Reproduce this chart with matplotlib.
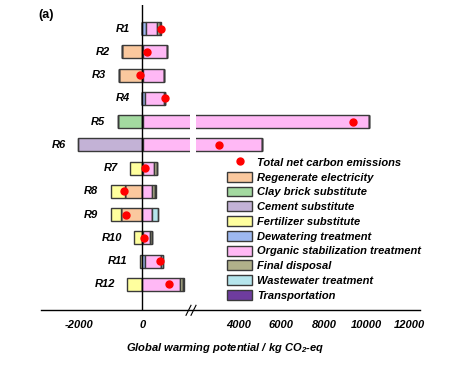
import numpy as np
import matplotlib
matplotlib.use("Agg")
import matplotlib.pyplot as plt
from matplotlib.lines import Line2D
from matplotlib.patches import Patch

plt.rcParams['font.family'] = ['Liberation Sans', 'DejaVu Sans']
plt.rcParams['font.weight'] = 'bold'
plt.rcParams['font.style'] = 'italic'
plt.rcParams['font.size'] = 8
plt.rcParams['mathtext.default'] = 'regular'
plt.rcParams['axes.unicode_minus'] = False

# --- data (kg CO2-eq), rows R1..R12 ---
rows = ["R1", "R2", "R3", "R4", "R5", "R6", "R7", "R8", "R9", "R10", "R11", "R12"]

# negative parts (stacked leftwards from 0, in this order)
regen = [0, -640, -745, 0, 0, 0, 0, -545, -690, 0, 0, 0]
clay = [0, 0, 0, 0, -775, 0, 0, 0, 0, 0, 0, 0]
cement = [0, 0, 0, 0, 0, -2030, 0, 0, 0, 0, 0, 0]
fert = [0, 0, 0, 0, 0, 0, -380, -460, -315, -255, -90, -475]

# positive parts (stacked rightwards from 0, in this order)
dewater = [100, 30, 20, 70, 30, 30, 30, 0, 0, 20, 70, 0]
organic = [360, 745, 660, 610, 10090, 5090, 330, 290, 310, 205, 510, 1180]
disposal = [100, 0, 0, 20, 0, 0, 100, 110, 0, 75, 0, 90]
wastewater = [0, 0, 0, 0, 0, 0, 0, 0, 170, 0, 70, 0]
transport = [20, 0, 0, 0, 0, 0, 0, 20, 20, 0, 0, 30]

names = ["Regenerate electricity", "Clay brick substitute", "Cement substitute",
         "Fertilizer substitute", "Dewatering treatment", "Organic stabilization treatment",
         "Final disposal", "Wastewater treatment", "Transportation"]
colors = ["#FAC89E", "#A3D9A0", "#C3B2D6", "#FFFF9E", "#9DB8F0", "#FFB8F5",
          "#B0B08A", "#B5E5EC", "#6E3C9E"]

neg_parts = [regen, clay, cement, fert]
pos_parts = [dewater, organic, disposal, wastewater, transport]
neg_cols = colors[:4]
pos_cols = colors[4:]

net = np.sum(neg_parts, axis=0) + np.sum(pos_parts, axis=0)
y = np.arange(len(rows))

fig = plt.figure(figsize=(4.58, 3.68), dpi=100)
W, H = 458, 368
bot = (H - 310.3) / H
top = (H - 5) / H
axL = fig.add_axes([41 / W, bot, (190 - 41) / W, top - bot])
axR = fig.add_axes([195.7 / W, bot, (420 - 195.7) / W, top - bot])

ec = "#3a3a3a"
bh = 0.56
for ax in (axL, axR):
    left = np.zeros(len(rows))
    for vals, c in zip(neg_parts, neg_cols):
        v = np.array(vals, dtype=float)
        ax.barh(y, v, left=left, height=bh, color=c, edgecolor=ec, linewidth=1)
        left += v
    left = np.zeros(len(rows))
    for vals, c in zip(pos_parts, pos_cols):
        v = np.array(vals, dtype=float)
        ax.barh(y, v, left=left, height=bh, color=c, edgecolor=ec, linewidth=1)
        left += v
    ax.plot(net, y, "o", color="red", markersize=5, zorder=5, clip_on=True)
    ax.set_ylim(12.11, -1.01)
    ax.set_yticks([])
    for s in ax.spines.values():
        s.set_visible(False)
    ax.tick_params(axis="x", length=0, pad=7, labelsize=8)
    ax.patch.set_alpha(0)

axL.set_xlim(-3200, 1500)
axL.set_xticks([-2000, 0])
axR.set_xlim(2000, 12500)
axR.set_xticks([4000, 6000, 8000, 10000, 12000])
axL.axvline(0, color="black", linewidth=1, zorder=4)

# row labels next to the left end of each bar
lows = np.minimum(np.sum(neg_parts, axis=0), 0)
for yi, lab, lo in zip(y, rows, lows):
    axL.annotate(lab, xy=(lo, yi), xytext=(-9, 0), textcoords="offset points",
                 ha="right", va="center", fontsize=8)

# continuous bottom axis line with break marks
fig.add_artist(Line2D([41 / W, 420 / W], [bot, bot], color="black", linewidth=1))
for dx in (0, 5):
    x0 = (186 + dx) / W
    fig.add_artist(Line2D([x0, x0 + 5 / W], [bot - 5 / H, bot + 5 / H],
                          color="black", linewidth=0.8))

fig.text(126 / W, 1 - 348 / H, "Global warming potential / kg CO$_2$-eq",
         ha="left", va="center", fontsize=8)
fig.text(38 / W, 1 - 15 / H, "(a)", ha="left", va="center", fontsize=9, style="normal")

handles = [Line2D([], [], marker="o", color="red", linestyle="none", markersize=5)]
handles += [Patch(facecolor=c, edgecolor=ec, linewidth=1) for c in colors]
labels = ["Total net carbon emissions"] + names
fig.legend(handles, labels, loc="upper left", bbox_to_anchor=(227 / W, 1 - 157 / H),
           frameon=False, borderpad=0, borderaxespad=0, handlelength=2.25,
           handletextpad=0.45, handleheight=1.0, labelspacing=0.36, fontsize=8)

fig.savefig("out.png", dpi=100)
